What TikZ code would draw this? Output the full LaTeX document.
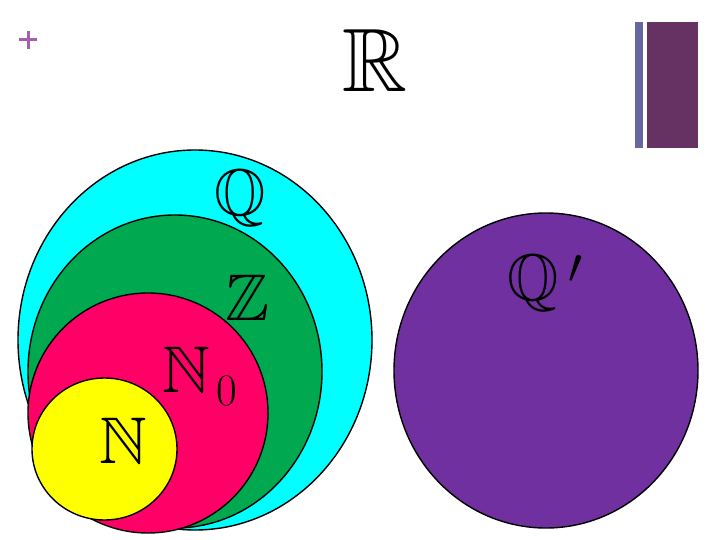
\documentclass[tikz,border=0pt]{standalone}
\usepackage{fontspec}
\usepackage{amssymb}
\usepackage{graphicx}
\definecolor{setcyan}{RGB}{0,255,255}
\definecolor{setgreen}{RGB}{0,168,80}
\definecolor{setpink}{RGB}{255,0,102}
\definecolor{setyellow}{RGB}{255,255,0}
\definecolor{setpurple}{RGB}{112,48,160}
\definecolor{barblue}{RGB}{102,102,160}
\definecolor{barplum}{RGB}{102,50,100}
\definecolor{plusmauve}{RGB}{165,95,175}
\tikzset{
  setshape/.style={draw=black, line width=1.4pt},
  setlabel/.style={font=\fontsize{66}{66}\selectfont, anchor=base, inner sep=0pt},
}
\begin{document}
\begin{tikzpicture}[x=1pt,y=-1pt]
    \useasboundingbox[fill=white] (0,0) rectangle (720,540);

    % Corner marks
    \draw[plusmauve, line width=3pt] (19,40) -- (37,40);
    \draw[plusmauve, line width=3pt] (28,31) -- (28,49);
    \fill[barblue] (635,22) rectangle (643,148);
    \fill[barplum] (647,22) rectangle (698,148);

    % Nested sets
    \draw[setshape, fill=setcyan]   (195,340) ellipse [x radius=177, y radius=190];
    \draw[setshape, fill=setgreen]  (175,371.5) ellipse [x radius=147, y radius=156.5];
    \draw[setshape, fill=setpink]   (148,413) ellipse [x radius=120, y radius=120];
    \draw[setshape, fill=setyellow] (104.5,449) ellipse [x radius=72.5, y radius=71];
    % Irrationals
    \draw[setshape, fill=setpurple] (546,370.5) ellipse [x radius=152, y radius=157.5];

    % Labels
    \node[setlabel, font=\fontsize{90}{90}\selectfont] (reals) at (375,92) {$\mathbb{R}$};
    \node[setlabel] (rationals) at (240,215) {$\mathbb{Q}$};
    \node[setlabel] (integers)  at (247,320) {$\mathbb{Z}$};
    \node[setlabel] (wholes)    at (200,392)
      {$\mathbb{N}$\hspace{6pt}\raisebox{-13pt}{\fontsize{45}{45}\selectfont 0}};
    \node[setlabel] (naturals)  at (123,463) {$\mathbb{N}$};
    \node[setlabel] (irrationals) at (545,300)
      {$\mathbb{Q}$\hspace{10pt}\raisebox{17pt}{\resizebox{!}{28pt}{$\prime$}}};
\end{tikzpicture}
\end{document}
